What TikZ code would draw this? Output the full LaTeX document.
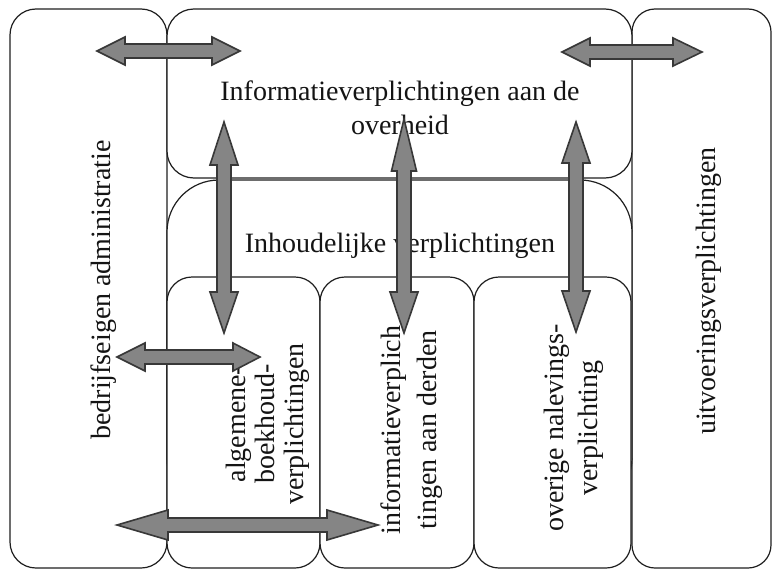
\documentclass[tikz,border=0pt]{standalone}
\usepackage{fontspec}
\setmainfont{Liberation Serif}
\newcommand\harrow[6]{% left tip x, right tip x, y, left head, right head, half head
  \draw[blockarrow] (#1,#3) -- (#1+#4,#3-#6) -- (#1+#4,#3-7) -- (#2-#5,#3-7) -- (#2-#5,#3-#6)
    -- (#2,#3) -- (#2-#5,#3+#6) -- (#2-#5,#3+7) -- (#1+#4,#3+7) -- (#1+#4,#3+#6) -- cycle;}
\newcommand\varrow[7]{% x, top tip y, bottom tip y, top head, bottom head, half top head, half bottom head
  \draw[blockarrow] (#1,#2) -- (#1+#6,#2+#4) -- (#1+7,#2+#4) -- (#1+7,#3-#5) -- (#1+#7,#3-#5)
    -- (#1,#3) -- (#1-#7,#3-#5) -- (#1-7,#3-#5) -- (#1-7,#2+#4) -- (#1-#6,#2+#4) -- cycle;}
\begin{document}
\begin{tikzpicture}[x=1pt,y=-1pt,
  box/.style={draw=black!88, line width=1.2pt, fill=white},
  blockarrow/.style={draw=black!78, line width=1.6pt, fill=black!48, line join=miter},
  lbl/.style={font=\fontsize{28}{34}\selectfont, align=center, inner sep=0pt, text=black!92}]
\useasboundingbox (0,0) rectangle (773,570);
% boxes
\draw[box, rounded corners=26] (10,9) rectangle (167,568);
\draw[box, rounded corners=23] (632,9) rectangle (771,568);
\draw[box, rounded corners=27] (167,9) rectangle (632,178);
\draw[box, rounded corners=52] (167,180) rectangle (632,510);
\draw[box, rounded corners=25] (167,277) rectangle (320,568);
\draw[box, rounded corners=25] (320,277) rectangle (474,568);
\draw[box, rounded corners=25] (474,277) rectangle (631,568);
% labels
\node[lbl, rotate=90] (bedr) at (104,290) {bedrijfseigen administratie};
\node[lbl, rotate=90] (uitv) at (709,291) {uitvoeringsverplichtingen};
\node[lbl] (info) at (400,108) {Informatieverplichtingen aan de\\overheid};
\node[lbl, anchor=base] (inh) at (400,252) {Inhoudelijke verplichtingen};
\node[lbl, rotate=90, font=\fontsize{28}{29}\selectfont] (alg) at (268,424) {algemene-\\boekhoud-\\verplichtingen};
\node[lbl, rotate=90, font=\fontsize{28}{36}\selectfont] (infd) at (412,430) {informatieverplich\\tingen aan derden};
\node[lbl, rotate=90, font=\fontsize{28}{34}\selectfont] (over) at (574,428) {overige nalevings-\\verplichting};
% arrows
\harrow{97}{240}{51}{28}{28}{14}
\harrow{562}{702}{52}{28}{29}{14}
\varrow{224}{122}{333}{43}{41}{14}{14}
\varrow{404}{119}{333}{52}{41}{12.5}{14}
\varrow{576}{122}{332}{41}{41}{14}{14}
\harrow{117}{260}{357}{28}{27}{14}
\harrow{117}{378}{525}{51}{51}{15}
\end{tikzpicture}
\end{document}
